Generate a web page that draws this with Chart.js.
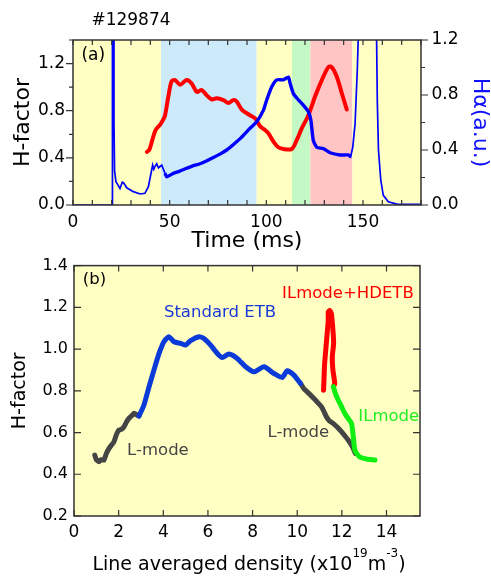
<!DOCTYPE html>
<html>
<head>
<meta charset="utf-8">
<script src="https://cdn.jsdelivr.net/npm/chart.js@4.4.1/dist/chart.umd.min.js"></script>
<style>
  body { margin: 0; background: #fff; }
  #wrap { position: relative; width: 491px; height: 576px; }
  canvas { position: absolute; left: 0; }
  #chartA { top: 0; }
  #chartB { top: 250px; }
</style>
</head>
<body>
<div id="wrap">
  <canvas id="chartA" width="491" height="262"></canvas>
  <canvas id="chartB" width="491" height="326"></canvas>
</div>
<script>
var FONT = "'DejaVu Sans', sans-serif";
Chart.defaults.font.family = FONT;
Chart.defaults.color = '#000';

// ---- panel (a): shot #129874, time traces ----
var haTime = [0, 20.2, 20.4, 20.8, 21.2, 21.5, 22.2, 23.3, 24.3, 25.5, 26.2, 27.8, 31.2, 34.7, 37.2, 39,
  40.2, 41.2, 41.8, 42.4, 43.3, 44.2, 45, 45.9, 47.6, 48.5, 51.9, 55, 58.8, 62, 65.7, 69, 72.6, 76,
  79.5, 83, 87, 91, 95, 98.5, 100.2, 102.8, 105.4, 108.8, 111.4, 112.3, 114, 116.6, 119.1, 121.7,
  123, 124.3, 126.1, 129.5, 133, 138.1, 142.4, 143.6, 144.7, 145.9, 147.1, 148.1, 156.8, 157.4,
  158, 159.2, 160.5, 163.1, 167.5, 180];
var haValue = [0, 0, 1.5, 1.5, 0.6, 0.25, 0.17, 0.145, 0.12, 0.165, 0.16, 0.125, 0.097, 0.08, 0.085, 0.133,
  0.22, 0.29, 0.26, 0.28, 0.30, 0.27, 0.28, 0.29, 0.23, 0.206, 0.23, 0.245, 0.267, 0.285, 0.30, 0.32, 0.345, 0.37,
  0.40, 0.44, 0.49, 0.55, 0.605, 0.69, 0.764, 0.86, 0.91, 0.91, 0.93, 0.885, 0.81, 0.764, 0.727, 0.68,
  0.62, 0.47, 0.42, 0.41, 0.38, 0.364, 0.364, 0.35, 0.42, 0.59, 1.0, 1.5, 1.5, 0.76,
  0.40, 0.18, 0.07, 0.024, 0.007, 0.005];
// stretch where the H-alpha signal is noisy (drawn as a wider band)
var haNoisyFrom = 47.6, haNoisyTo = 143.6;

var hfTime = [38.2, 39.5, 41, 42.3, 43.3, 45, 46.5, 47.6, 49.3, 51, 52.8, 55.4, 58.8, 61.4, 64, 66.6,
  69.2, 71.8, 74.3, 77.8, 80.4, 82.9, 84.6, 87.3, 90.7, 94.2, 96.7, 99, 101, 103.6, 106.2, 108.8,
  113.1, 115.7, 118.3, 121.7, 125.2, 128.7, 132.1, 133.8, 136.4, 139, 141.6];
var hfValue = [0.45, 0.47, 0.55, 0.62, 0.65, 0.68, 0.72, 0.76, 0.92, 1.05, 1.06, 1.02, 1.06, 1.03, 0.96, 0.975,
  0.93, 0.895, 0.905, 0.89, 0.865, 0.89, 0.88, 0.81, 0.77, 0.735, 0.67, 0.64, 0.61, 0.54, 0.49, 0.475,
  0.475, 0.55, 0.65, 0.76, 0.92, 1.06, 1.17, 1.17, 1.09, 0.95, 0.81];

// phase boundaries (ms) and their shading
var phaseEdges = [0, 45.5, 95, 113.3, 122.8, 144.5, 180];
var phaseColors = ['#ffffc4', '#cdeafa', '#ffffc4', '#c4f8c4', '#ffc4c4', '#ffffc4'];

// ---- panel (b): H-factor vs line averaged density ----
var lmode1Density = [0.93, 1.0, 1.12, 1.22, 1.34, 1.45, 1.57, 1.68, 1.79, 1.9, 2.01, 2.12, 2.24, 2.35, 2.46, 2.58, 2.69, 2.84, 2.91];
var lmode1H = [0.492, 0.47, 0.46, 0.47, 0.468, 0.5, 0.524, 0.54, 0.556, 0.59, 0.612, 0.615, 0.628, 0.65, 0.668, 0.68, 0.692, 0.683, 0.679];

var etbDensity = [2.91, 3.13, 3.36, 3.58, 3.81, 4.03, 4.25, 4.48, 4.78, 5.0, 5.22, 5.6, 5.82, 6.12, 6.42, 6.64,
  6.94, 7.31, 7.69, 8.06, 8.51, 8.96, 9.33, 9.55, 9.85, 10.15];
var etbH = [0.679, 0.731, 0.819, 0.899, 0.979, 1.035, 1.059, 1.035, 1.027, 1.019, 1.04, 1.059, 1.051, 1.019, 0.979, 0.96,
  0.976, 0.955, 0.915, 0.891, 0.915, 0.883, 0.864, 0.896, 0.875, 0.835];

var lmode2Density = [10.15, 10.3, 10.45, 10.75, 10.95, 11.09, 11.2, 11.31, 11.45, 11.61, 11.8, 11.98, 12.15, 12.28, 12.4, 12.51, 12.6];
var lmode2H = [0.835, 0.81, 0.795, 0.763, 0.74, 0.723, 0.70, 0.675, 0.655, 0.644, 0.625, 0.604, 0.582, 0.564, 0.545, 0.524, 0.5];

var ilDensity = [13.48, 13.1, 12.81, 12.66, 12.58, 12.51, 12.47, 12.43, 12.3, 12.14, 11.98, 11.84, 11.7, 11.62];
var ilH = [0.468, 0.473, 0.482, 0.5, 0.516, 0.58, 0.62, 0.644, 0.665, 0.69, 0.725, 0.755, 0.79, 0.82];

var hdetbDensity = [11.62, 11.68, 11.6, 11.57, 11.63, 11.6, 11.53, 11.46, 11.39, 11.39, 11.34, 11.29, 11.25, 11.22, 11.2, 11.18];
var hdetbH = [0.82, 0.835, 0.899, 0.962, 1.026, 1.09, 1.17, 1.185, 1.178, 1.138, 1.074, 1.01, 0.96, 0.915, 0.86, 0.803];

function pairs(xs, ys) {
  return xs.map(function (x, i) { return { x: x, y: ys[i] }; });
}
function every04(v) { return Math.round(v * 10) % 4 === 0; }

// tick marks along one edge of the plot box
function drawMarks(chart, id, edge, dir, lenOf) {
  var s = chart.scales[id], ctx = chart.ctx;
  s.ticks.forEach(function (t) {
    var p = s.getPixelForValue(t.value), len = lenOf(t.value);
    if (s.isHorizontal()) { ctx.moveTo(p, edge); ctx.lineTo(p, edge + dir * len); }
    else { ctx.moveTo(edge, p); ctx.lineTo(edge + dir * len, p); }
  });
}

function text(ctx, str, x, y, size, color, align) {
  ctx.font = size + 'px ' + FONT;
  ctx.fillStyle = color;
  ctx.textAlign = align || 'center';
  ctx.textBaseline = 'middle';
  ctx.fillText(str, x, y);
}

var boxA = {
  id: 'boxA',
  beforeDraw: function (chart) {
    var a = chart.chartArea, ctx = chart.ctx, xs = chart.scales.x;
    ctx.save();
    for (var i = 0; i < phaseColors.length; i++) {
      var x0 = xs.getPixelForValue(phaseEdges[i]), x1 = xs.getPixelForValue(phaseEdges[i + 1]);
      ctx.fillStyle = phaseColors[i];
      ctx.fillRect(x0, a.top, x1 - x0, a.bottom - a.top);
    }
    ctx.restore();
  },
  afterDraw: function (chart) {
    var a = chart.chartArea, ctx = chart.ctx;
    ctx.save();
    ctx.strokeStyle = '#333';
    ctx.lineWidth = 1.5;
    ctx.strokeRect(a.left, a.top, a.right - a.left, a.bottom - a.top);
    ctx.lineWidth = 1.2;
    ctx.beginPath();
    drawMarks(chart, 'x', a.bottom, -1, function () { return 5; });
    drawMarks(chart, 'x', a.top, 1, function () { return 5; });
    drawMarks(chart, 'y', a.left, -1, function (v) { return every04(v) ? 7 : 4; });
    drawMarks(chart, 'y2', a.right, 1, function (v) { return every04(v) ? 7 : 4; });
    ctx.stroke();
    text(ctx, '#129874', 131, 21, 17, '#000');
    text(ctx, '(a)', chart.scales.x.getPixelForValue(10.5), chart.scales.y.getPixelForValue(1.267), 17, '#000');
    ctx.restore();
  }
};

var notesB = [
  { text: '(b)', d: 0.92, h: 1.33, color: '#000' },
  { text: 'Standard ETB', d: 6.54, h: 1.174, color: '#1a3ad6' },
  { text: 'ILmode+HDETB', d: 12.27, h: 1.266, color: '#ff0000' },
  { text: 'ILmode', d: 14.1, h: 0.675, color: '#22ee22' },
  { text: 'L-mode', d: 10.05, h: 0.6, color: '#444444' },
  { text: 'L-mode', d: 3.76, h: 0.512, color: '#444444' }
];

var boxB = {
  id: 'boxB',
  beforeDraw: function (chart) {
    var a = chart.chartArea, ctx = chart.ctx;
    ctx.save();
    ctx.fillStyle = '#ffffc4';
    ctx.fillRect(a.left, a.top, a.right - a.left, a.bottom - a.top);
    ctx.restore();
  },
  afterDraw: function (chart) {
    var a = chart.chartArea, ctx = chart.ctx, xs = chart.scales.x, ys = chart.scales.y;
    ctx.save();
    ctx.strokeStyle = '#333';
    ctx.lineWidth = 1.5;
    ctx.strokeRect(a.left, a.top, a.right - a.left, a.bottom - a.top);
    ctx.lineWidth = 1.2;
    ctx.beginPath();
    drawMarks(chart, 'x', a.bottom, -1, function () { return 6; });
    drawMarks(chart, 'x', a.top, 1, function () { return 6; });
    drawMarks(chart, 'y', a.left, 1, function () { return 7; });
    drawMarks(chart, 'y', a.right, -1, function () { return 7; });
    ctx.stroke();

    notesB.forEach(function (n) {
      text(ctx, n.text, xs.getPixelForValue(n.d), ys.getPixelForValue(n.h), 16.5, n.color);
    });

    // x title with superscripts
    var parts = [['Line averaged density (x10', 19, 0], ['19', 12, -13], ['m', 19, 0], ['-3', 12, -13], [')', 19, 0]];
    var total = 0;
    parts.forEach(function (p) { ctx.font = p[1] + 'px ' + FONT; total += ctx.measureText(p[0]).width; });
    var x = (a.left + a.right) / 2 + 2 - total / 2, base = 320;
    ctx.fillStyle = '#000';
    ctx.textAlign = 'left';
    ctx.textBaseline = 'alphabetic';
    parts.forEach(function (p) {
      ctx.font = p[1] + 'px ' + FONT;
      ctx.fillText(p[0], x, base + p[2]);
      x += ctx.measureText(p[0]).width;
    });
    ctx.restore();
  }
};

var noGrid = { display: false, drawTicks: false };
var noBorder = { display: false };

var haPoints = pairs(haTime, haValue);

new Chart(document.getElementById('chartA'), {
  type: 'line',
  data: {
    datasets: [{
      label: 'H alpha (noisy part)',
      data: haPoints.filter(function (p) { return p.x >= haNoisyFrom && p.x <= haNoisyTo; }),
      yAxisID: 'y2',
      borderColor: '#0000ff',
      borderWidth: 3.4,
      borderJoinStyle: 'round',
      pointRadius: 0,
      tension: 0.2
    }, {
      label: 'H alpha',
      data: haPoints,
      yAxisID: 'y2',
      borderColor: '#0000ff',
      borderWidth: 1.7,
      pointRadius: 0,
      tension: 0
    }, {
      label: 'H-factor',
      data: pairs(hfTime, hfValue),
      yAxisID: 'y',
      borderColor: '#ff0000',
      borderWidth: 4,
      borderJoinStyle: 'round',
      borderCapStyle: 'round',
      pointRadius: 0,
      tension: 0.3
    }]
  },
  options: {
    responsive: false,
    animation: false,
    devicePixelRatio: 1,
    layout: { padding: { top: 40, left: 0, right: 0, bottom: 0 } },
    plugins: { legend: { display: false }, tooltip: { enabled: false } },
    scales: {
      x: {
        type: 'linear', min: 0, max: 180,
        grid: noGrid, border: noBorder,
        ticks: {
          stepSize: 10, autoSkip: false, maxRotation: 0, padding: 7, color: '#000', font: { size: 17 },
          callback: function (v) { return v % 50 === 0 ? String(v) : ''; }
        },
        title: { display: true, text: 'Time (ms)', color: '#000', font: { size: 22, lineHeight: 1 }, padding: { top: 0, bottom: 10 } },
        afterFit: function (s) { s.height = 57; }
      },
      y: {
        position: 'left', min: 0, max: 1.4,
        grid: noGrid, border: noBorder,
        ticks: {
          stepSize: 0.2, autoSkip: false, padding: 8, color: '#000', font: { size: 17 },
          callback: function (v) { return every04(v) ? v.toFixed(1) : ''; }
        },
        title: { display: true, text: 'H-factor', color: '#000', font: { size: 22, lineHeight: 1 }, padding: { top: 12, bottom: 0 } },
        afterFit: function (s) { s.width = 73; }
      },
      y2: {
        position: 'right', min: 0, max: 1.2,
        grid: noGrid, border: noBorder,
        ticks: {
          stepSize: 0.2, autoSkip: false, padding: 10.5, color: '#000', font: { size: 17 },
          callback: function (v) { return every04(v) ? v.toFixed(1) : ''; }
        },
        title: { display: true, text: 'Hα(a.u.)', color: '#1010ff', font: { size: 22, lineHeight: 1 }, padding: { top: 0, bottom: 0 } },
        afterFit: function (s) { s.width = 70; }
      }
    }
  },
  plugins: [boxA]
});

function phaseLine(xs, ys, color) {
  return {
    data: pairs(xs, ys),
    borderColor: color,
    borderWidth: 5,
    borderJoinStyle: 'round',
    borderCapStyle: 'round',
    pointRadius: 0,
    showLine: true,
    tension: 0.2
  };
}

new Chart(document.getElementById('chartB'), {
  type: 'scatter',
  data: {
    datasets: [
      phaseLine(ilDensity, ilH, '#11ee11'),
      phaseLine(hdetbDensity, hdetbH, '#ff0000'),
      phaseLine(etbDensity, etbH, '#0a3ad8'),
      phaseLine(lmode2Density, lmode2H, '#444444'),
      phaseLine(lmode1Density, lmode1H, '#444444')
    ]
  },
  options: {
    responsive: false,
    animation: false,
    devicePixelRatio: 1,
    layout: { padding: { top: 15, left: 0, right: 71, bottom: 0 } },
    plugins: { legend: { display: false }, tooltip: { enabled: false } },
    scales: {
      x: {
        type: 'linear', min: 0, max: 15.5,
        grid: noGrid, border: noBorder,
        ticks: { stepSize: 2, includeBounds: false, autoSkip: false, maxRotation: 0, padding: 6.5, color: '#000', font: { size: 17 } },
        afterFit: function (s) { s.height = 60; }
      },
      y: {
        type: 'linear', min: 0.2, max: 1.4,
        grid: noGrid, border: noBorder,
        ticks: {
          stepSize: 0.2, autoSkip: false, padding: 6, color: '#000', font: { size: 16 },
          callback: function (v) { return v.toFixed(1); }
        },
        title: { display: true, text: 'H-factor', color: '#000', font: { size: 19, lineHeight: 1 }, padding: { top: 11, bottom: 0 } },
        afterFit: function (s) { s.width = 74; }
      }
    }
  },
  plugins: [boxB]
});
</script>
</body>
</html>
